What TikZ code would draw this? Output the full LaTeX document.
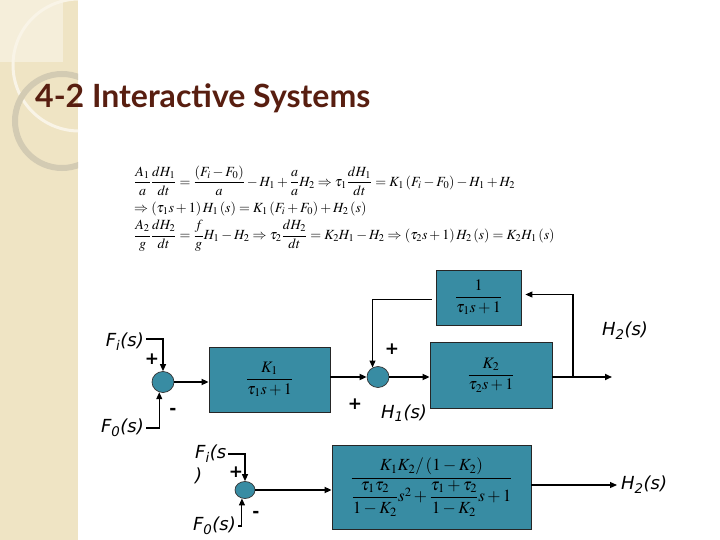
\documentclass[tikz,border=0pt]{standalone}
\usepackage{amsmath}
\usepackage{mathptmx}
\usepackage[no-math]{fontspec}
\setmainfont{Liberation Serif}
\newfontfamily\lblfont{DejaVu Sans}
\newfontfamily\titlefont{Lato}
\usetikzlibrary{arrows.meta,positioning,calc,shapes.geometric}
\definecolor{boxteal}{RGB}{56,140,163}
\definecolor{titlebrown}{RGB}{88,30,16}
\definecolor{strip}{RGB}{239,228,196}
\definecolor{stripfade}{RGB}{245,238,218}
\tikzset{
  blk/.style={draw=black!85,fill=boxteal,line width=0.8pt,inner sep=0pt,align=center,font=\fontsize{16}{18}\selectfont},
  sumpt/.style={ellipse,draw=black!80,fill=boxteal,line width=0.7pt,minimum width=22pt,minimum height=21pt,inner sep=0pt},
  sig/.style={font=\lblfont\itshape\fontsize{18}{20}\selectfont,inner sep=2pt},
  sgn/.style={font=\lblfont\bfseries\fontsize{17}{17}\selectfont,inner sep=0pt},
  eqn/.style={anchor=west,inner sep=0pt,font=\fontsize{14}{16}\selectfont},
  fwd/.style={-{Triangle[length=7pt,width=6pt]},line width=1.6pt},
  fbk/.style={-{Triangle[length=7pt,width=6pt]},line width=1.1pt}
}
\begin{document}
\begin{tikzpicture}[x=1pt,y=-1pt]
  \useasboundingbox (0,0) rectangle (720,540);
  \fill[white] (0,0) rectangle (720,540);
  % side strip
  \fill[strip] (0,0) rectangle (78,540);
  \fill[stripfade] (0,0) rectangle (63,62);
  \begin{scope}
    \clip (0,0) rectangle (78,540);
    \draw[white!60!strip,line width=3pt] (79,65) circle[radius=66];
    \draw[strip!75!gray,line width=6pt] (62,121) circle[radius=47];
  \end{scope}
  \node[anchor=west,inner sep=0pt,text=titlebrown,font=\titlefont\bfseries\fontsize{32}{32}\selectfont] (title) at (35,98) {4-2 Interactive Systems};

  % equations
  \node[eqn] (eq1) at (134,181) {$\displaystyle \frac{A_1}{a}\frac{dH_1}{dt}=\frac{\left(F_i-F_0\right)}{a}-H_1+\frac{a}{a}H_2\Rightarrow\tau_1\frac{dH_1}{dt}=K_1\left(F_i-F_0\right)-H_1+H_2$};
  \node[eqn] (eq2) at (134,209) {$\Rightarrow\left(\tau_1s+1\right)H_1\left(s\right)=K_1\left(F_i+F_0\right)+H_2\left(s\right)$};
  \node[eqn] (eq3) at (134,236) {$\displaystyle \frac{A_2}{g}\frac{dH_2}{dt}=\frac{f}{g}H_1-H_2\Rightarrow\tau_2\frac{dH_2}{dt}=K_2H_1-H_2\Rightarrow\left(\tau_2s+1\right)H_2\left(s\right)=K_2H_1\left(s\right)$};

  % interacting loop
  \node[sumpt] (s1) at (163,382) {};
  \node[blk,minimum width=121pt,minimum height=65pt] (g1) at (269.5,379.5) {$\dfrac{K_1}{\tau_1s+1}$};
  \node[sumpt] (s2) at (378,377) {};
  \node[blk,minimum width=85pt,minimum height=55pt] (h) at (478.5,297.5) {$\dfrac{1}{\tau_1s+1}$};
  \node[blk,minimum width=122pt,minimum height=66pt] (g2) at (491,375) {$\dfrac{K_2}{\tau_2s+1}$};
  \coordinate (tap) at (573,377);
  \coordinate (out1) at (612,377);
  \node[sig,anchor=east] (fi) at (146,342) {F\textsubscript{i}(s)};
  \node[sig,anchor=east] (fo) at (146,428) {F\textsubscript{0}(s)};
  \node[sig] (h1) at (404,413) {H\textsubscript{1}(s)};
  \node[sig] (h2) at (625,331) {H\textsubscript{2}(s)};
  \node[sgn] (p1) at (152,359) {+};
  \node[sgn] (m1) at (173,411) {-};
  \node[sgn] (p2) at (392,349) {+};
  \node[sgn] (p3) at (355,404) {+};

  \draw[fbk] ([yshift=3pt]fi.east) -| (s1.north);
  \draw[fbk] (fo.east) -| (s1.250);
  \draw[fwd] (s1.east) -- (s1.east -| g1.west);
  \draw[fwd] (g1.east |- s2.west) -- (s2.west);
  \draw[fwd] (s2.east) -- (s2.east -| g2.west);
  \draw[fwd] (s2.east -| g2.east) -- (out1);
  \draw[fbk,shorten >=4pt] (tap) |- ([yshift=3pt]h.east);
  \draw[fbk,shorten <=4pt] ([yshift=-2pt]h.west) -| (s2.120);

  % reduced form
  \node[sig,align=left,anchor=north west] (fi2) at (193,443) {F\textsubscript{i}(s\\[3pt])};
  \node[sumpt,minimum width=20pt,minimum height=17pt] (s3) at (245,490) {};
  \node[sig,anchor=east] (fo2) at (238,526) {F\textsubscript{0}(s)};
  \node[blk,minimum width=199pt,minimum height=84pt,font=\fontsize{17}{19}\selectfont] (g3) at (431.5,487) {$\dfrac{K_1K_2/\left(1-K_2\right)}{\dfrac{\tau_1\tau_2}{1-K_2}s^2+\dfrac{\tau_1+\tau_2}{1-K_2}s+1}$};
  \coordinate (out2) at (617,485);
  \node[sig,anchor=west] (h2b) at (619,485) {H\textsubscript{2}(s)};
  \node[sgn] (p4) at (236,472) {+};
  \node[sgn] (m2) at (256,514) {-};

  \draw[fbk] ([yshift=-11pt]fi2.north east) -| (s3.north);
  \draw[fbk] (fo2.east) -| (s3.250);
  \draw[fwd] (s3.east) -- (s3.east -| g3.west);
  \draw[fbk] (g3.east |- out2) -- (out2);
\end{tikzpicture}
\end{document}
